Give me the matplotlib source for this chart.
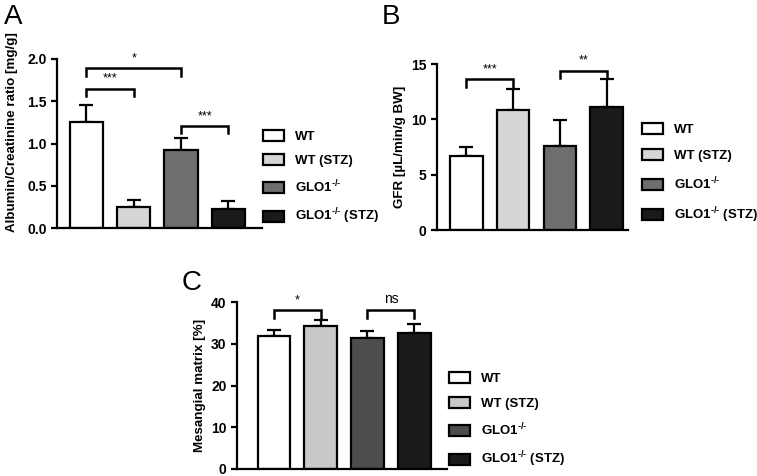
import matplotlib
matplotlib.use("Agg")
from matplotlib import pyplot as plt
from matplotlib.patches import Patch

plt.rcParams["font.family"] = ["Liberation Sans", "DejaVu Sans"]
plt.rcParams["font.weight"] = "bold"
plt.rcParams["mathtext.fontset"] = "custom"
plt.rcParams["mathtext.rm"] = "Liberation Sans:bold"
plt.rcParams["mathtext.default"] = "rm"

groups = ["WT", "WT (STZ)", r"GLO1$^{\text{-/-}}$", r"GLO1$^{\text{-/-}}$ (STZ)"]

acr_mean = [1.25, 0.25, 0.92, 0.23]
acr_err = [0.21, 0.08, 0.15, 0.09]

gfr_mean = [6.7, 10.8, 7.6, 11.1]
gfr_err = [0.8, 1.9, 2.3, 2.5]

mes_mean = [31.8, 34.3, 31.3, 32.6]
mes_err = [1.4, 1.3, 1.7, 2.2]

colors_ab = ["white", "#d6d6d6", "#6e6e6e", "#1a1a1a"]
colors_c = ["white", "#c8c8c8", "#4d4d4d", "#1a1a1a"]

W, H = 757, 476
fig = plt.figure(figsize=(W / 100, H / 100), dpi=100)


def px_axes(left, right, top, bottom):
    return fig.add_axes([left / W, 1 - bottom / H, (right - left) / W, (bottom - top) / H])


def draw_panel(ax, means, errs, colors, ylim, yticks, fmt, ylabel, xlim):
    x = list(range(len(means)))
    ax.bar(x, means, width=0.7, color=colors, edgecolor="black", linewidth=1.6, zorder=2)
    ax.errorbar(x, means, yerr=[[0] * len(errs), errs], fmt="none", ecolor="black",
                elinewidth=1.6, capsize=5, capthick=1.6, zorder=1)
    ax.set_xlim(*xlim)
    ax.set_ylim(*ylim)
    ax.set_yticks(yticks)
    ax.set_yticklabels([fmt.format(t) for t in yticks], fontsize=10, fontweight="bold")
    ax.set_xticks([])
    ax.spines["top"].set_visible(False)
    ax.spines["right"].set_visible(False)
    ax.spines["left"].set_linewidth(1.6)
    ax.spines["bottom"].set_linewidth(1.6)
    ax.tick_params(axis="y", width=1.6, length=4)
    ax.set_ylabel(ylabel, fontsize=9.6, fontweight="bold")


def bracket(ax, x1, x2, y, drop, label, fs=9):
    ax.plot([x1, x1, x2, x2], [y - drop, y, y, y - drop], color="black", lw=1.8,
            solid_joinstyle="miter", clip_on=False)
    ax.text((x1 + x2) / 2, y + drop * 0.5, label, ha="center", va="bottom",
            fontsize=fs, fontweight="normal")


def legend(ax, colors, x, y, spacing):
    handles = [Patch(facecolor=c, edgecolor="black", linewidth=1.6) for c in colors]
    ax.legend(handles, groups, loc="upper left", bbox_to_anchor=(x / W, 1 - y / H),
              bbox_transform=fig.transFigure, frameon=False, fontsize=9.5,
              handlelength=1.6, handleheight=0.9, handletextpad=0.8, labelspacing=spacing,
              borderaxespad=0, borderpad=0)


# Panel A
axA = px_axes(57, 262, 59, 228)
draw_panel(axA, acr_mean, acr_err, colors_ab, (0, 2.0), [0.0, 0.5, 1.0, 1.5, 2.0], "{:.1f}",
           "Albumin/Creatinine ratio [mg/g]", (-0.62, 3.71))
axA.yaxis.set_label_coords(-0.19, 0.57)
bracket(axA, 0, 1, 1.65, 0.09, "***")
bracket(axA, 0, 2, 1.89, 0.09, "*")
bracket(axA, 2, 3, 1.21, 0.09, "***")
legend(axA, colors_ab, 263, 130, 0.86)
fig.text(4 / W, 1 - 4 / H, "A", fontsize=20, fontweight="normal", va="top", ha="left")

# Panel B
axB = px_axes(437, 628, 64, 230)
draw_panel(axB, gfr_mean, gfr_err, colors_ab, (0, 15), [0, 5, 10, 15], "{:d}",
           "GFR [µL/min/g BW]", (-0.62, 3.45))
bracket(axB, 0, 1, 13.6, 0.7, "***")
bracket(axB, 2, 3, 14.4, 0.7, "**")
legend(axB, colors_ab, 642, 123, 1.0)
fig.text(382 / W, 1 - 4 / H, "B", fontsize=20, fontweight="normal", va="top", ha="left")

# Panel C
axC = px_axes(237, 447, 302, 469)
draw_panel(axC, mes_mean, mes_err, colors_c, (0, 40), [0, 10, 20, 30, 40], "{:d}",
           "Mesangial matrix [%]", (-0.79, 3.70))
bracket(axC, 0, 1, 38.0, 1.9, "*")
bracket(axC, 2, 3, 38.0, 1.9, "ns", fs=10)
legend(axC, colors_c, 449, 372, 0.89)
fig.text(182 / W, 1 - 270 / H, "C", fontsize=20, fontweight="normal", va="top", ha="left")

fig.savefig("out.png", dpi=100)
